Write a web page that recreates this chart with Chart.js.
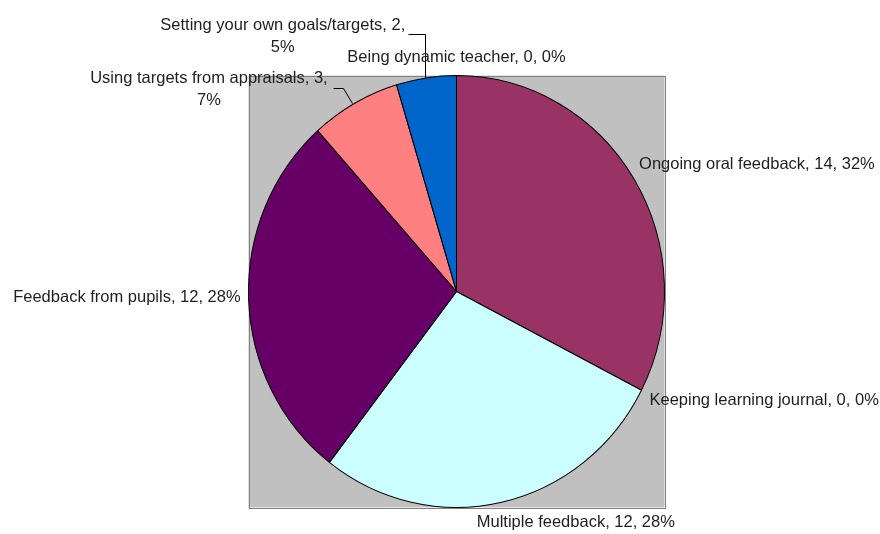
<!DOCTYPE html>
<html>
<head>
    <title>Feedback sources</title>
    <script src="https://cdn.jsdelivr.net/npm/chart.js"></script>
    <style>
        body { margin: 0; background: #fff; }
    </style>
</head>
<body>

<canvas id="pieChart" width="880" height="534"></canvas>

<script>
    // Values
    const categories = [
        'Ongoing oral feedback',
        'Keeping learning journal',
        'Multiple feedback',
        'Feedback from pupils',
        'Using targets from appraisals',
        'Setting your own goals/targets',
        'Being dynamic teacher'
    ];
    const counts = [14, 0, 12, 12, 3, 2, 0];
    const percentLabels = ['32%', '0%', '28%', '28%', '7%', '5%', '0%'];
    const sliceColors = ['#993366', '#ccffff', '#ccffff', '#660066', '#ff8080', '#0066cc', '#0066cc'];

    // Where each data label sits, relative to the middle of its slice's rim
    const labelPlacement = [
        { dx: 5, dy: -15, align: 'left' },
        { dx: 8, dy: 10, align: 'left' },
        { dx: -25, dy: 20, align: 'left' },
        { dx: -8, dy: -2, align: 'right' },
        { dx: -27, dy: -25, align: 'right', breakAfterCount: true,
          leader: [[-2.5, 0], [-11.5, -15], [-21.5, -15]] },
        { dx: -21, dy: -52, align: 'right', breakAfterCount: true,
          leader: [[-1, 0], [-1, -44], [-18, -44]] },
        { dx: 0, dy: -18, align: 'center' }
    ];

    const FONT = '16.5px "Liberation Sans", Arial, sans-serif';
    const LINE_HEIGHT = 22;
    const PIE_STRETCH = 1.038; // the original pie is a little taller than wide

    function pieGeometry(chart) {
        const arc = chart.getDatasetMeta(0).data[0];
        const { x, y, outerRadius } = arc.getProps(['x', 'y', 'outerRadius'], true);
        return { x, y, rx: outerRadius, ry: outerRadius * PIE_STRETCH };
    }

    // Gray square behind the pie, plus the vertical stretch of the pie itself
    const plotBackground = {
        id: 'plotBackground',
        beforeDatasetsDraw(chart) {
            const g = pieGeometry(chart);
            const ctx = chart.ctx;
            ctx.save();
            ctx.fillStyle = '#c0c0c0';
            ctx.fillRect(g.x - g.rx, g.y - g.ry, g.rx * 2, g.ry * 2);
            ctx.strokeStyle = '#808080';
            ctx.lineWidth = 1;
            ctx.strokeRect(Math.round(g.x - g.rx) + 0.5, Math.round(g.y - g.ry) + 0.5,
                Math.round(g.rx * 2), Math.round(g.ry * 2));
            ctx.restore();
        },
        beforeDatasetDraw(chart) {
            const g = pieGeometry(chart);
            const ctx = chart.ctx;
            ctx.save();
            ctx.translate(g.x, g.y);
            ctx.scale(1, PIE_STRETCH);
            ctx.translate(-g.x, -g.y);
        },
        afterDatasetDraw(chart) {
            chart.ctx.restore();
        }
    };

    // Excel-style labels: "name, value, percent"
    const sliceLabels = {
        id: 'sliceLabels',
        afterDatasetsDraw(chart) {
            const ctx = chart.ctx;
            const g = pieGeometry(chart);
            const arcs = chart.getDatasetMeta(0).data;
            ctx.save();
            ctx.font = FONT;
            ctx.fillStyle = '#1e1e1e';
            ctx.textBaseline = 'middle';
            arcs.forEach((arc, i) => {
                const p = arc.getProps(['startAngle', 'endAngle'], true);
                const mid = (p.startAngle + p.endAngle) / 2;
                const ex = g.x + Math.cos(mid) * g.rx;
                const ey = g.y + Math.sin(mid) * g.ry;
                const place = labelPlacement[i];

                if (place.leader) {
                    ctx.beginPath();
                    ctx.strokeStyle = '#000';
                    ctx.lineWidth = 1;
                    place.leader.forEach(([lx, ly], k) => {
                        const px = Math.round(ex + lx) + 0.5, py = Math.round(ey + ly) + 0.5;
                        if (k === 0) ctx.moveTo(px, py); else ctx.lineTo(px, py);
                    });
                    ctx.stroke();
                }

                const lines = place.breakAfterCount
                    ? [`${categories[i]}, ${counts[i]},`, percentLabels[i]]
                    : [`${categories[i]}, ${counts[i]}, ${percentLabels[i]}`];
                const blockWidth = Math.max(...lines.map(l => ctx.measureText(l).width));
                let cx;
                if (place.align === 'left') cx = ex + place.dx + blockWidth / 2;
                else if (place.align === 'right') cx = ex + place.dx - blockWidth / 2;
                else cx = ex + place.dx;
                ctx.textAlign = 'center';
                lines.forEach((line, k) => {
                    ctx.fillText(line, cx, ey + place.dy + k * LINE_HEIGHT);
                });
            });
            ctx.restore();
        }
    };

    new Chart(document.getElementById('pieChart'), {
        type: 'pie',
        data: {
            labels: categories,
            datasets: [{
                data: counts,
                backgroundColor: sliceColors,
                borderColor: '#000',
                borderWidth: 1,
                hoverOffset: 0
            }]
        },
        options: {
            responsive: false,
            animation: false,
            layout: {
                padding: { left: 248, right: 215, top: 83, bottom: 34 }
            },
            plugins: {
                legend: { display: false },
                tooltip: { enabled: false }
            }
        },
        plugins: [plotBackground, sliceLabels]
    });
</script>
</body>
</html>
